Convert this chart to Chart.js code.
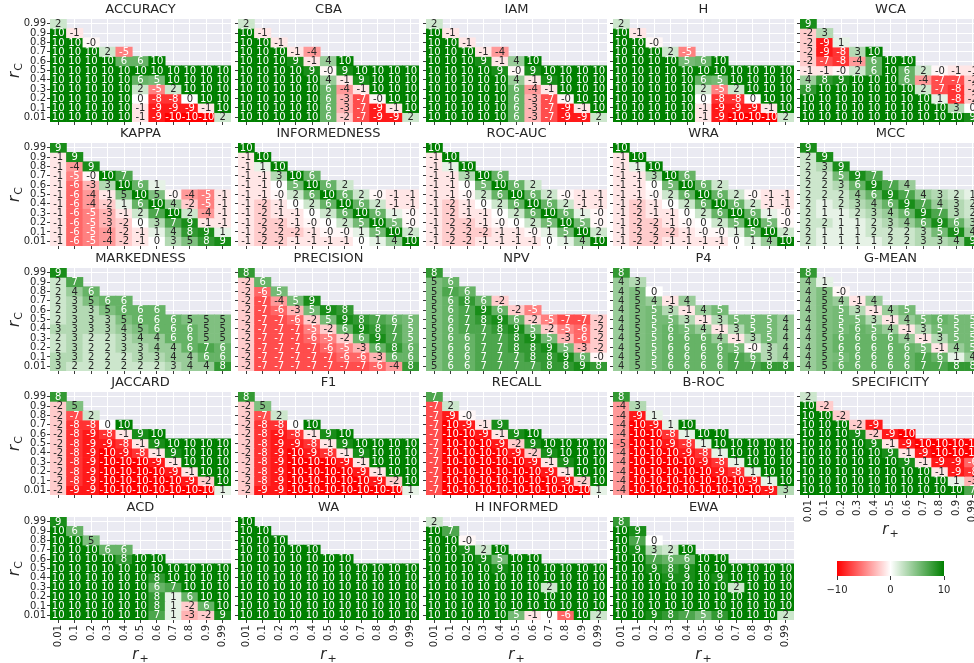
<!DOCTYPE html>
<html>
<head>
<meta charset="utf-8">
<script src="https://cdn.jsdelivr.net/npm/chart.js@4"></script>
<style>
  html, body { margin: 0; padding: 0; background: #ffffff; width: 974px; height: 663px; overflow: hidden; }
  #wrap { position: relative; width: 974px; height: 663px; overflow: hidden; }
  #wrap canvas { position: absolute; }
</style>
</head>
<body>
<div id="wrap"></div>
<script>
// Axis categories
const rPlus = ['0.01', '0.1', '0.2', '0.3', '0.4', '0.5', '0.6', '0.7', '0.8', '0.9', '0.99'];
const rC = ['0.99', '0.9', '0.8', '0.7', '0.6', '0.5', '0.4', '0.3', '0.2', '0.1', '0.01'];
const colorbarTicks = [-10, 0, 10];

// One matrix per metric: rows follow rC (top to bottom), columns follow rPlus.
const ACCURACY = [
  [2], [10, -1], [10, 10, -0.3], [10, 10, 10, 2, -5], [10, 10, 10, 10, 6, 6, 10],
  [10, 10, 10, 10, 10, 10, 10, 10, 10, 10, 10],
  [10, 10, 10, 10, 10, 6, 5.4, 10, 10, 10, 10],
  [10, 10, 10, 10, 10, 2, -5, 2, 10, 10, 10],
  [10, 10, 10, 10, 10, 0, -8, -8, 0, 10, 10],
  [10, 10, 10, 10, 10, -1, -9, -9, -9, -1, 10],
  [10, 10, 10, 10, 10, -1, -9, -10, -10, -10, 2]];
const CBA = [
  [2], [10, -1], [10, 10, -1], [10, 10, 10, -1, -4], [10, 10, 10, 9, -1, 4, 10],
  [10, 10, 10, 10, 9, -0.3, 9, 10, 10, 10, 10],
  [10, 10, 10, 10, 10, 4, -1, 9, 10, 10, 10],
  [10, 10, 10, 10, 10, 6, -4, -1, 10, 10, 10],
  [10, 10, 10, 10, 10, 6, -3, -7, -0.3, 10, 10],
  [10, 10, 10, 10, 10, 6, -3, -7, -9, -1, 10],
  [10, 10, 10, 10, 10, 6, -2, -7, -9, -9, 2]];
const IAM = [
  [2], [10, -1], [10, 10, -1], [10, 10, 10, -1, -4], [10, 10, 10, 9, -1, 4, 10],
  [10, 10, 10, 10, 9, -0.3, 9, 10, 10, 10, 10],
  [10, 10, 10, 10, 10, 4, -1, 9, 10, 10, 10],
  [10, 10, 10, 10, 10, 6, -4, -1, 10, 10, 10],
  [10, 10, 10, 10, 10, 6, -3, -7, -0.3, 10, 10],
  [10, 10, 10, 10, 10, 6, -3, -7, -9, -1, 10],
  [10, 10, 10, 10, 10, 6, -3, -7, -9, -9, 2]];
const H = [
  [2], [10, -1], [10, 10, -0.3], [10, 10, 10, 2, -5], [10, 10, 10, 10, 5.4, 6, 10],
  [10, 10, 10, 10, 10, 10, 10, 10, 10, 10, 10],
  [10, 10, 10, 10, 10, 6, 5.4, 10, 10, 10, 10],
  [10, 10, 10, 10, 10, 2, -5, 2, 10, 10, 10],
  [10, 10, 10, 10, 10, 0, -8, -8, 0, 10, 10],
  [10, 10, 10, 10, 10, -1, -9, -9, -9, -1, 10],
  [10, 10, 10, 10, 10, -1, -9, -10, -10, -10, 2]];
const WCA = [
  [9], [-2, 3], [-2, -9, 1], [-2, -9, -8, 3, 10], [-2, -7, -8, -4, 6, 10, 10],
  [-1, -1, -0.3, 2, 6, 10, 6, 2, -0.3, -1, -1],
  [4, 8, 9, 10, 10, 10, 6, -4, -7, -7, -2],
  [8, 10, 10, 10, 10, 10, 10, 2, -7, -8, -2],
  [10, 10, 10, 10, 10, 10, 10, 10, 1, -8, -2],
  [10, 10, 10, 10, 10, 10, 10, 10, 10, 3, 0],
  [10, 10, 10, 10, 10, 10, 10, 10, 10, 10, 9]];

const KAPPA = [
  [9], [-1, 9], [-1, -4, 9], [-1, -5, -0.3, 10, 7], [-1, -6, -3, 3, 10, 6, 1],
  [-1, -6, -4, -1, 5, 10, 5, -0.3, -4, -5, -1],
  [-1, -6, -4, -2, 1, 6, 10, 4, -2, -5, -1],
  [-1, -6, -5, -3, -1, 2, 7, 10, 2, -4, -1],
  [-1, -6, -5, -3, -2, 0, 3, 7, 9, -1, -1],
  [-1, -6, -5, -4, -2, -1, 1, 4, 8, 9, 1],
  [-1, -6, -5, -4, -2, -1, 0, 3, 5, 8, 9]];
const INFORMEDNESS = [
  [10], [-1, 10], [-1, 1, 10], [-1, -1, 3, 10, 6], [-1, -1, 0, 5.4, 10, 6, 2],
  [-1, -1, -0.3, 2, 6, 10, 6, 2, -0.3, -1, -1],
  [-1, -2, -1, 0, 2, 6, 10, 6, 2, -1, -1],
  [-1, -2, -1, -1, 0, 2, 6, 10, 6, 1, -0.3],
  [-1, -2, -2, -1, -0.3, 0, 2, 5.4, 10, 5.4, -0.3],
  [-1, -2, -2, -2, -1, -0.3, -0.3, 1, 5.4, 10, 2],
  [-1, -2, -2, -1, -1, -1, -1, 0, 1, 4, 10]];
const ROC_AUC = [
  [10], [-1, 10], [-1, 1, 10], [-1, -1, 3, 10, 6], [-1, -1, 0, 5.4, 10, 6, 2],
  [-1, -1, -0.3, 2, 6, 10, 6, 2, -0.3, -1, -1],
  [-1, -2, -1, 0, 2, 6, 10, 6, 2, -1, -1],
  [-1, -2, -1, -1, 0, 2, 6, 10, 6, 1, -0.3],
  [-1, -2, -2, -1, -0.3, 0, 2, 5.4, 10, 5.4, -0.3],
  [-1, -2, -2, -2, -1, -1, -0.3, 1, 5.4, 10, 2],
  [-1, -2, -2, -1, -1, -1, -1, 0, 1, 4, 10]];
const WRA = [
  [10], [-1, 10], [-1, 1, 10], [-1, -1, 3, 10, 6], [-1, -1, 0, 5.4, 10, 6, 2],
  [-1, -1, -0.3, 2, 6, 10, 6, 2, -0.3, -1, -1],
  [-1, -2, -1, 0, 2, 6, 10, 6, 2, -1, -1],
  [-1, -2, -1, -1, 0, 2, 6, 10, 6, 1, -0.3],
  [-1, -2, -2, -1, -0.3, 0, 2, 5.4, 10, 5.4, -0.3],
  [-1, -2, -2, -2, -1, -0.3, -0.3, 1, 5.4, 10, 2],
  [-1, -2, -2, -1, -1, -1, -1, 0, 1, 4, 10]];
const MCC = [
  [9], [2, 9], [2, 3, 9], [2, 2, 5.4, 9, 7], [2, 2, 3, 6, 9, 7, 4],
  [2, 2, 2, 4, 6, 9, 7, 4, 3, 2, 1],
  [2, 1, 2, 3, 4, 6, 9, 7, 4, 3, 2],
  [2, 1, 1, 2, 3, 4, 6, 9, 7, 3, 2],
  [2, 2, 1, 1, 2, 3, 4, 6, 9, 6, 3],
  [2, 1, 1, 1, 2, 2, 2, 3, 5.4, 9, 4],
  [2, 1, 1, 1, 1, 2, 2, 3, 3, 4, 9]];

const MARKEDNESS = [
  [9], [2, 7], [2, 4, 6], [2, 3, 5, 6, 6], [2, 3, 3, 5, 6, 6, 6],
  [2, 3, 3, 3, 5, 6, 6, 6, 5, 5, 5],
  [3, 3, 3, 3, 4, 5, 6, 6, 6, 5, 5],
  [2, 3, 2, 2, 3, 4, 4, 6, 6, 5, 5],
  [2, 3, 2, 2, 3, 3, 4, 4, 6, 7, 6],
  [3, 3, 2, 2, 2, 3, 3, 4, 4, 6, 6],
  [3, 2, 2, 2, 2, 2, 2, 3, 4, 4, 8]];
const PRECISION = [
  [8], [-2, 6], [-2, -6, 5.4], [-2, -7, -4, 5.4, 9], [-2, -7, -6, -3, 5.4, 9, 8],
  [-2, -7, -7, -6, -2, 5.4, 9, 8, 7, 6, 5.4],
  [-2, -7, -7, -7, -5, -2, 6, 9, 8, 7, 5.4],
  [-2, -7, -7, -7, -6, -5, -2, 6, 9, 7, 5.4],
  [-2, -7, -7, -7, -7, -6, -5, -3, 6, 8, 6],
  [-2, -7, -7, -7, -7, -7, -6, -6, -3, 6, 6],
  [-2, -7, -7, -7, -7, -7, -7, -7, -6, -4, 8]];
const NPV = [
  [8], [5, 6], [5, 7, 6], [5, 6, 8, 6, -2], [5, 6, 7, 9, 6, -2, -5],
  [5, 6, 7, 8, 9, 6, -2, -5, -7, -7, -2],
  [5, 6, 7, 7, 8, 9, 5.4, -2, -5, -6, -2],
  [5, 6, 6, 7, 7, 8, 9, 5.4, -3, -6, -2],
  [5, 6, 6, 7, 7, 8, 8, 9, 5.4, -3, -2],
  [5, 6, 6, 7, 7, 7, 8, 8, 9, 6, -0.3],
  [5, 6, 6, 7, 7, 7, 7, 8, 8, 9, 8]];
const P4 = [
  [8], [4, 3], [4, 5, 0], [4, 5, 4, -1, 4], [4, 5, 5.4, 3, -1, 4, 5.4],
  [4, 5, 5.4, 5.4, 3, -1, 3, 5.4, 5.4, 5.4, 4],
  [4, 5, 5.4, 6, 5.4, 4, -1, 3, 5.4, 5.4, 4],
  [4, 5, 5.4, 6, 6, 6, 4, -1, 3, 5.4, 4],
  [4, 5, 5.4, 6, 6, 6, 6, 5.4, -0.3, 3, 4],
  [4, 5, 5.4, 6, 6, 6, 6, 7, 6, 3, 4],
  [4, 5, 5.4, 6, 6, 6, 6, 7, 7, 8, 8]];
const G_MEAN = [
  [8], [4, 1], [4, 5, -0.3], [4, 5, 4, -1, 4], [4, 5, 5.4, 3, -1, 4, 5.4],
  [4, 5, 5.4, 5.4, 3, -1, 4, 5.4, 6, 5.4, 5.4],
  [4, 5, 5.4, 6, 5.4, 4, -1, 3, 5.4, 5.4, 5.4],
  [4, 5, 6, 6, 6, 6, 4, -1, 3, 5.4, 5.4],
  [4, 5, 6, 6, 6, 6, 6, 5.4, -1, 4, 5.4],
  [4, 5, 5.4, 6, 6, 6, 6, 7, 6, 1, 4],
  [4, 5, 6, 6, 6, 6, 6, 7, 7, 8, 8]];

const JACCARD = [
  [8], [-2, 5], [-2, -7, 2], [-2, -8, -8, 0, 10], [-2, -8, -9, -8, -1, 9, 10],
  [-2, -8, -9, -9, -8, -1, 9, 10, 10, 10, 10],
  [-2, -8, -9, -10, -9, -8, -1, 9, 10, 10, 10],
  [-2, -8, -9, -10, -10, -10, -9, -1, 10, 10, 10],
  [-2, -8, -9, -10, -10, -10, -10, -9, -1, 10, 10],
  [-2, -8, -9, -10, -10, -10, -10, -10, -9, -2, 10],
  [-2, -9, -9, -10, -10, -10, -10, -10, -10, -10, 1]];
const F1 = [
  [8], [-2, 5], [-2, -7, 2], [-2, -8, -8, 0, 10], [-2, -8, -9, -8, -1, 9, 10],
  [-2, -8, -9, -9, -8, -1, 9, 10, 10, 10, 10],
  [-2, -8, -9, -10, -9, -8, -1, 9, 10, 10, 10],
  [-2, -8, -9, -10, -10, -10, -9, -1, 10, 10, 10],
  [-2, -8, -9, -10, -10, -10, -10, -9, -1, 10, 10],
  [-2, -8, -9, -10, -10, -10, -10, -10, -9, -2, 10],
  [-2, -9, -9, -10, -10, -10, -10, -10, -10, -10, 1]];
const RECALL = [
  [7], [-7, 2], [-7, -9, -0.3], [-7, -10, -9, -1, 9], [-7, -10, -10, -9, -1, 9, 10],
  [-7, -10, -10, -10, -9, -2, 9, 10, 10, 10, 10],
  [-7, -10, -10, -10, -10, -9, -2, 9, 10, 10, 10],
  [-7, -10, -10, -10, -10, -10, -9, -1, 9, 10, 10],
  [-7, -10, -10, -10, -10, -10, -10, -9, -1, 10, 10],
  [-7, -10, -10, -10, -10, -10, -10, -10, -9, -2, 10],
  [-7, -10, -10, -10, -10, -10, -10, -10, -10, -10, 1]];
const B_ROC = [
  [8], [-4, 3], [-4, -9, 1], [-4, -10, -9, 1, 10], [-4, -10, -10, -8, 1, 10, 10],
  [-4.6, -10, -10, -9, -8, 1, 10, 10, 10, 10, 10],
  [-4, -10, -10, -10, -9, -8, 1, 10, 10, 10, 10],
  [-4, -10, -10, -10, -10, -9, -8, 1, 10, 10, 10],
  [-4, -10, -10, -10, -10, -10, -9, -8, 1, 10, 10],
  [-4, -10, -10, -10, -10, -10, -10, -10, -9, 1, 10],
  [-4, -10, -10, -10, -10, -10, -10, -10, -10, -9, 3]];
const SPECIFICITY = [
  [2], [10, -2], [10, 10, -2], [10, 10, 10, -2, -9], [10, 10, 10, 9, -2, -9, -10],
  [10, 10, 10, 10, 9, -1, -9, -10, -10, -10, -10],
  [10, 10, 10, 10, 10, 9, -1, -9, -10, -10, -10],
  [10, 10, 10, 10, 10, 10, 9, -1, -9, -9, -6],
  [10, 10, 10, 10, 10, 10, 10, 10, -1, -9, -8],
  [10, 10, 10, 10, 10, 10, 10, 10, 10, 1, -3],
  [10, 10, 10, 10, 10, 10, 10, 10, 10, 10, 7]];

const ACD = [
  [9], [10, 6], [10, 10, 5], [10, 10, 10, 6, 6], [10, 10, 10, 10, 8, 10, 10],
  [10, 10, 10, 10, 10, 10, 10, 10, 10, 10, 10],
  [10, 10, 10, 10, 10, 10, 8, 10, 10, 10, 10],
  [10, 10, 10, 10, 10, 10, 6, 7, 10, 10, 10],
  [10, 10, 10, 10, 10, 10, 8, 1, 6, 10, 10],
  [10, 10, 10, 10, 10, 10, 8, 1, -2, 6, 10],
  [10, 10, 10, 10, 10, 10, 7, 1, -3, -2, 9]];
const WA = [
  [10], [10, 10], [10, 10, 10], [10, 10, 10, 10, 10], [10, 10, 10, 10, 10, 10, 10],
  [10, 10, 10, 10, 10, 10, 10, 10, 10, 10, 10],
  [10, 10, 10, 10, 10, 10, 10, 10, 10, 10, 10],
  [10, 10, 10, 10, 10, 10, 10, 10, 10, 10, 10],
  [10, 10, 10, 10, 10, 10, 10, 10, 10, 10, 10],
  [10, 10, 10, 10, 10, 10, 10, 10, 10, 10, 10],
  [10, 10, 10, 10, 10, 10, 10, 10, 10, 10, 10]];
const H_INFORMED = [
  [2], [10, 7], [10, 10, -0.3], [10, 10, 9, 2, 10], [10, 10, 10, 9, 5.4, 10, 10],
  [10, 10, 10, 10, 9, 10, 10, 10, 10, 10, 10],
  [10, 10, 10, 10, 10, 10, 10, 10, 10, 10, 10],
  [10, 10, 10, 10, 10, 10, 10, 2, 10, 10, 10],
  [10, 10, 10, 10, 10, 10, 10, 10, 10, 10, 10],
  [10, 10, 10, 10, 10, 10, 10, 10, 10, 10, 10],
  [10, 10, 10, 10, 10, 5.4, -1, 0, -6, 10, 2]];
const EWA = [
  [8], [10, 9], [10, 7, 0], [10, 9, 3, 2, 10], [10, 10, 7, 6, 6, 10, 10],
  [10, 10, 9, 8, 9, 10, 10, 10, 10, 10, 10],
  [10, 10, 10, 9, 9, 10, 9, 10, 10, 10, 10],
  [10, 10, 10, 10, 10, 10, 10, 2, 10, 10, 10],
  [10, 10, 10, 10, 10, 10, 10, 10, 10, 10, 10],
  [10, 10, 10, 10, 10, 10, 10, 10, 10, 10, 10],
  [10, 10, 9, 8, 7, 5.4, 8, 10, 10, 10, 2]];

// Grid of panels: [title, matrix], laid out row by row
const panelGrid = [
  [['ACCURACY', ACCURACY], ['CBA', CBA], ['IAM', IAM], ['H', H], ['WCA', WCA]],
  [['KAPPA', KAPPA], ['INFORMEDNESS', INFORMEDNESS], ['ROC-AUC', ROC_AUC], ['WRA', WRA], ['MCC', MCC]],
  [['MARKEDNESS', MARKEDNESS], ['PRECISION', PRECISION], ['NPV', NPV], ['P4', P4], ['G-MEAN', G_MEAN]],
  [['JACCARD', JACCARD], ['F1', F1], ['RECALL', RECALL], ['B-ROC', B_ROC], ['SPECIFICITY', SPECIFICITY]],
  [['ACD', ACD], ['WA', WA], ['H INFORMED', H_INFORMED], ['EWA', EWA]]
];

// ---- layout ----
const FONT = '"DejaVu Sans", sans-serif';
const TEXT = '#262626';
const colLeft = [50, 238, 426, 613, 800];
const rowTop = [19, 143, 268, 392, 517];
const PLOT_W = 181, PLOT_H = 103;
const LEFT_M = 50, TITLE_H = 18, BOTTOM_M = 45;

const wrap = document.getElementById('wrap');

// red (-10) -> white (0) -> green (+10)
function cellRGB(v) {
  const t = Math.max(-1, Math.min(1, v / 10));
  if (t >= 0) return [255 * (1 - t), 255 - 127 * t, 255 * (1 - t)];
  const s = -t;
  return [255, 255 * (1 - s), 255 * (1 - s)];
}
function rgbStr(c) { return 'rgb(' + c.map(Math.round).join(',') + ')'; }
function luminance(c) {
  const f = x => { x /= 255; return x <= 0.03928 ? x / 12.92 : Math.pow((x + 0.055) / 1.055, 2.4); };
  return 0.2126 * f(c[0]) + 0.7152 * f(c[1]) + 0.0722 * f(c[2]);
}
function fmt(v) {
  const r = Math.round(v);
  return (r === 0 && v < 0) ? '-0' : String(r === 0 ? 0 : r);
}

const bgPlugin = {
  id: 'plotBg',
  beforeDraw(chart) {
    const a = chart.chartArea, ctx = chart.ctx;
    ctx.save();
    ctx.fillStyle = '#eaeaf2';
    ctx.fillRect(a.left, a.top, a.right - a.left, a.bottom - a.top);
    ctx.restore();
  }
};

const cellLabelPlugin = {
  id: 'cellLabels',
  afterDatasetsDraw(chart) {
    const ctx = chart.ctx;
    ctx.save();
    ctx.font = '10px ' + FONT;
    ctx.textAlign = 'center';
    ctx.textBaseline = 'middle';
    chart.data.datasets.forEach((ds, di) => {
      const meta = chart.getDatasetMeta(di);
      ds.vals.forEach((v, i) => {
        const el = meta.data[i];
        if (!el) return;
        const cy = (el.y + el.base) / 2;
        ctx.fillStyle = luminance(cellRGB(v)) > 0.408 ? TEXT : '#ffffff';
        ctx.fillText(fmt(v), el.x, cy + 0.5);
      });
    });
    ctx.restore();
  }
};

// italic r with a subscript, optionally rotated for the vertical axis
function drawSubLabel(ctx, x, y, sub, vertical) {
  ctx.save();
  ctx.translate(x, y);
  if (vertical) ctx.rotate(-Math.PI / 2);
  ctx.fillStyle = TEXT;
  ctx.textAlign = 'left';
  ctx.textBaseline = 'alphabetic';
  ctx.font = 'italic 15px ' + FONT;
  const wr = ctx.measureText('r').width;
  ctx.font = '11px ' + FONT;
  const ws = ctx.measureText(sub).width;
  const x0 = -(wr + ws + 1) / 2;
  ctx.font = 'italic 15px ' + FONT;
  ctx.fillText('r', x0, 4);
  ctx.font = '11px ' + FONT;
  ctx.fillText(sub, x0 + wr + 1, 7);
  ctx.restore();
}
function axisNamePlugin(showX, showY) {
  return {
    id: 'axisNames',
    afterDraw(chart) {
      const a = chart.chartArea, ctx = chart.ctx;
      if (showX) drawSubLabel(ctx, (a.left + a.right) / 2, a.bottom + 35, '+', false);
      if (showY) drawSubLabel(ctx, a.left - 35, (a.top + a.bottom) / 2, 'C', true);
    }
  };
}

function makePanel(title, matrix, r, c, showX, showY) {
  const canvas = document.createElement('canvas');
  const w = LEFT_M + PLOT_W, h = TITLE_H + PLOT_H + BOTTOM_M;
  canvas.width = w; canvas.height = h;
  canvas.style.left = (colLeft[c] - LEFT_M) + 'px';
  canvas.style.top = (rowTop[r] - TITLE_H) + 'px';
  wrap.appendChild(canvas);

  const datasets = matrix.map((row, ri) => ({
    data: rPlus.map((_, i) => i < row.length ? [ri - 0.5, ri + 0.5] : null),
    vals: row,
    backgroundColor: rPlus.map((_, i) => i < row.length ? rgbStr(cellRGB(row[i])) : 'rgba(0,0,0,0)'),
    borderWidth: 0,
    grouped: false,
    barPercentage: 1,
    categoryPercentage: 1
  }));

  const tickFont = { family: FONT, size: 10 };
  new Chart(canvas, {
    type: 'bar',
    data: { labels: rPlus, datasets },
    options: {
      responsive: false,
      animation: false,
      devicePixelRatio: 1,
      events: [],
      layout: { padding: 0 },
      plugins: {
        legend: { display: false },
        tooltip: { enabled: false },
        title: {
          display: true, text: title, position: 'top', fullSize: false,
          color: TEXT, font: { family: FONT, size: 13, weight: 'normal', lineHeight: '16px' },
          padding: { top: 1, bottom: 1 }
        }
      },
      scales: {
        x: {
          type: 'category',
          offset: true,
          grid: { offset: false, color: '#ffffff', lineWidth: 1, drawTicks: true, tickLength: 3, tickColor: '#3a3a3a', tickWidth: 1 },
          border: { display: false },
          ticks: { display: showX, autoSkip: false, minRotation: 90, maxRotation: 90, padding: 2, color: TEXT, font: tickFont },
          afterFit(s) { s.height = BOTTOM_M; s.paddingLeft = 0; s.paddingRight = 0; }
        },
        y: {
          type: 'linear',
          reverse: true,
          min: -0.5,
          max: 10.5,
          afterBuildTicks(s) { s.ticks = rC.map((_, i) => ({ value: i })); },
          grid: { color: '#ffffff', lineWidth: 1, drawTicks: true, tickLength: 3, tickColor: '#3a3a3a', tickWidth: 1 },
          border: { display: false },
          ticks: { display: showY, autoSkip: false, padding: 1, color: TEXT, font: tickFont, callback: v => rC[v] },
          afterFit(s) { s.width = LEFT_M; s.paddingTop = 0; s.paddingBottom = 0; }
        }
      }
    },
    plugins: [bgPlugin, cellLabelPlugin, axisNamePlugin(showX, showY)]
  });
}

panelGrid.forEach((rowPanels, r) => {
  rowPanels.forEach(([title, matrix], c) => {
    const lastInColumn = (r === panelGrid.length - 1) || !panelGrid[r + 1][c];
    makePanel(title, matrix, r, c, lastInColumn, c === 0);
  });
});

// ---- colour bar ----
(function () {
  const padX = 20, barW = 107, barH = 15, axisH = 30;
  const canvas = document.createElement('canvas');
  canvas.width = barW + 2 * padX; canvas.height = barH + axisH;
  canvas.style.left = (837 - padX) + 'px';
  canvas.style.top = '561px';
  wrap.appendChild(canvas);

  const gradientPlugin = {
    id: 'gradientBar',
    beforeDatasetsDraw(chart) {
      const a = chart.chartArea, ctx = chart.ctx, x = chart.scales.x;
      const x0 = x.getPixelForValue(-10), x1 = x.getPixelForValue(10);
      const g = ctx.createLinearGradient(x0, 0, x1, 0);
      g.addColorStop(0, rgbStr(cellRGB(-10)));
      g.addColorStop((x.getPixelForValue(0) - x0) / (x1 - x0), rgbStr(cellRGB(0)));
      g.addColorStop(1, rgbStr(cellRGB(10)));
      ctx.save();
      ctx.fillStyle = g;
      ctx.fillRect(x0, a.top, x1 - x0, a.bottom - a.top);
      ctx.restore();
    }
  };

  new Chart(canvas, {
    type: 'scatter',
    data: { datasets: [] },
    options: {
      responsive: false,
      animation: false,
      devicePixelRatio: 1,
      events: [],
      layout: { padding: { left: padX, right: padX, top: 0, bottom: 0 } },
      plugins: { legend: { display: false }, tooltip: { enabled: false } },
      scales: {
        x: {
          type: 'linear', min: -10, max: 10,
          afterBuildTicks(s) { s.ticks = colorbarTicks.map(v => ({ value: v })); },
          grid: { drawOnChartArea: false, drawTicks: true, tickLength: 4, tickColor: '#3a3a3a' },
          border: { display: false },
          ticks: { padding: 4, color: TEXT, font: { family: FONT, size: 10 },
                   callback: v => v < 0 ? '\u2212' + Math.abs(v) : String(v) },
          afterFit(s) { s.height = axisH; s.paddingLeft = 0; s.paddingRight = 0; }
        },
        y: { display: false, min: 0, max: 1 }
      }
    },
    plugins: [gradientPlugin]
  });
})();
</script>
</body>
</html>
